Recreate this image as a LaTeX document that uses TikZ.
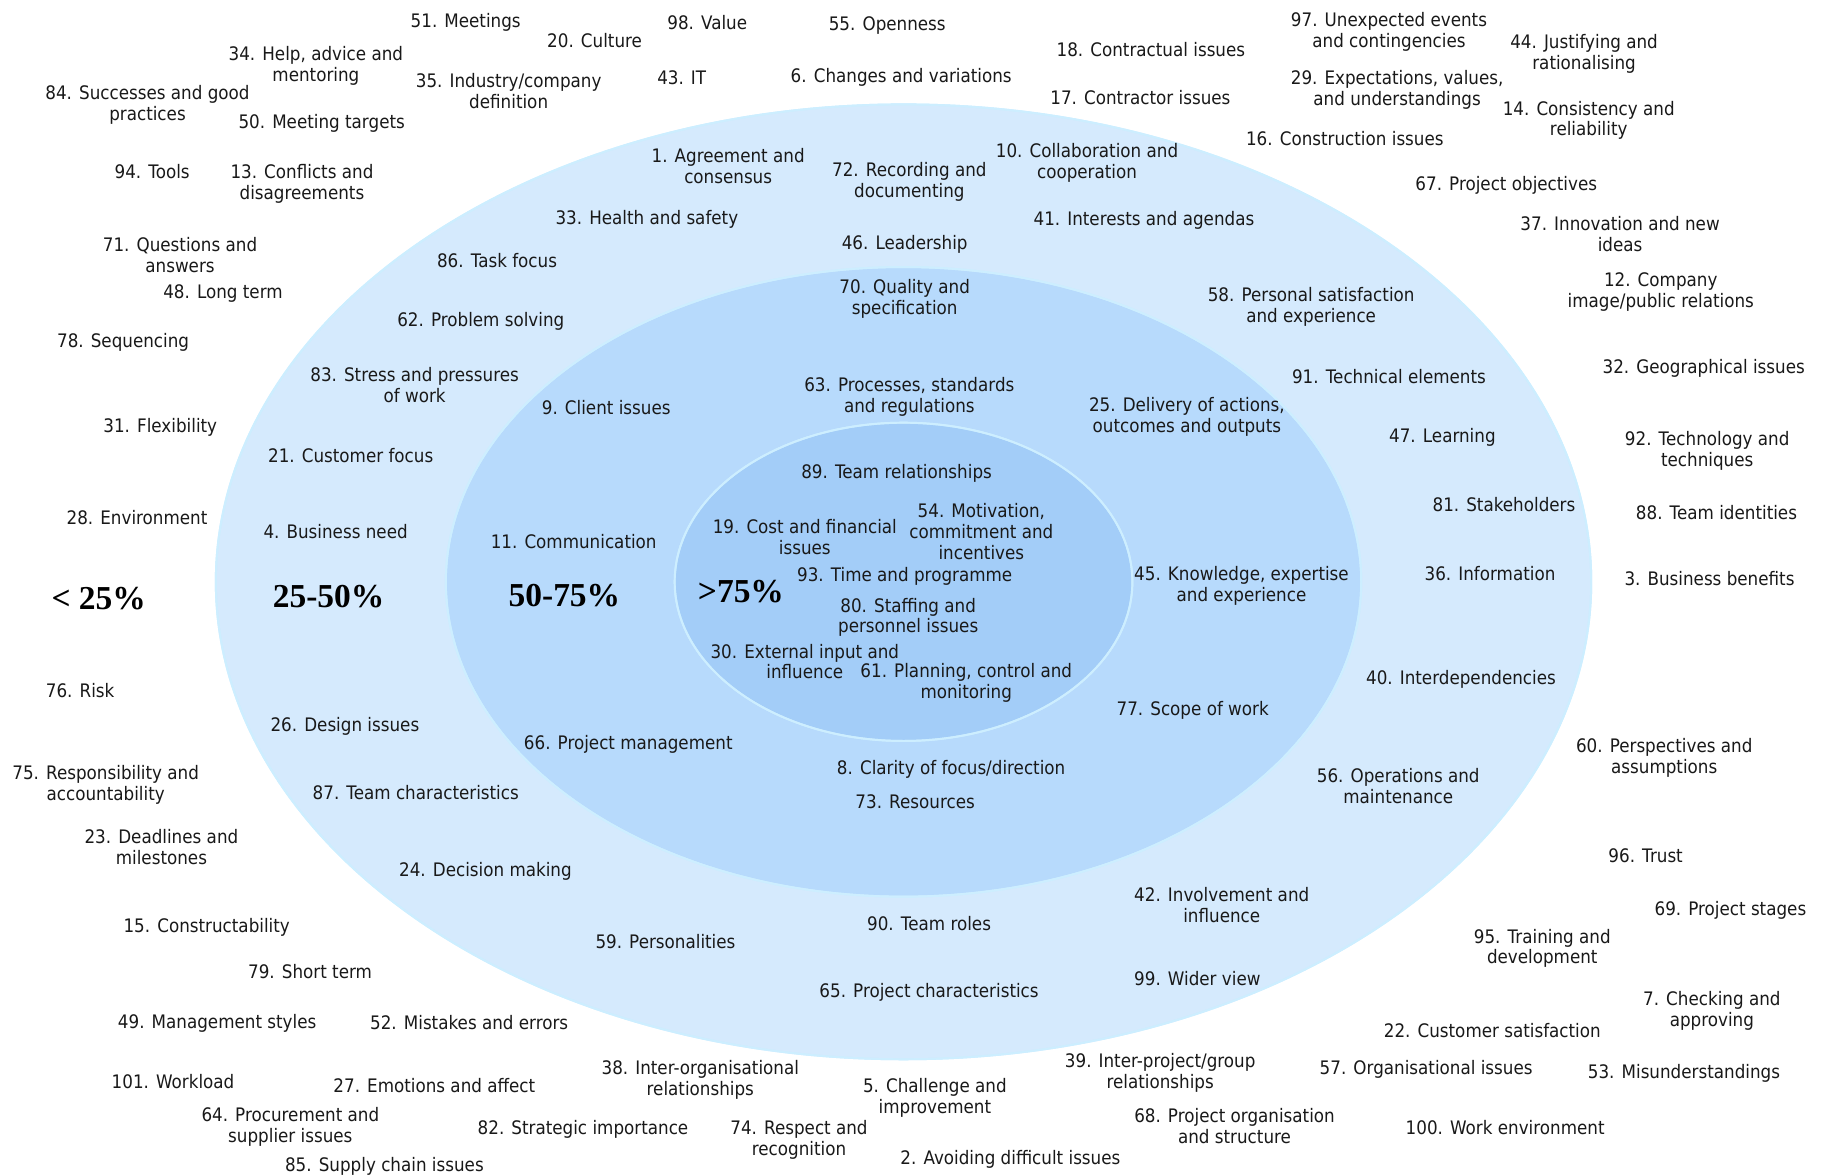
\documentclass[tikz,border=0pt]{standalone}
\usepackage{fontspec}
\setmainfont{DejaVu Sans}[FakeStretch=0.9]
\newfontfamily\timesbold{Liberation Serif}[BoldFont={Liberation Serif Bold}]
\definecolor{ringA}{RGB}{213,234,253}
\definecolor{ringB}{RGB}{183,218,252}
\definecolor{ringC}{RGB}{163,205,248}
\definecolor{ringEdge}{RGB}{205,238,255}
\definecolor{txt}{RGB}{25,25,25}
\tikzset{
  lbl/.style={font=\fontsize{11.4}{12.8}\selectfont, align=center, inner sep=0pt, text=txt, yshift=-0.065cm},
  big/.style={font=\timesbold\bfseries\fontsize{20.5}{22}\selectfont, inner sep=0pt, text=black},
  ring/.style={draw=ringEdge, line width=1.2pt}
}
\begin{document}
\begin{tikzpicture}[x=0.025cm,y=-0.025cm]
\useasboundingbox[fill=white] (0,0) rectangle (1568,1012);
% rings
\coordinate (ctr) at (778,501);
\fill[ring, fill=ringA] (ctr) ellipse [x radius=14.8cm, y radius=10.275cm];
\fill[ring, fill=ringB] (ctr) ellipse [x radius=9.85cm, y radius=6.775cm];
\fill[ring, fill=ringC] (ctr) ellipse [x radius=4.925cm, y radius=3.425cm];
\draw[ring] (ctr) ellipse [x radius=14.8cm, y radius=10.275cm];
\draw[ring] (ctr) ellipse [x radius=9.85cm, y radius=6.775cm];
\draw[ring] (ctr) ellipse [x radius=4.925cm, y radius=3.425cm];
% band labels
\node[big] (b1) at (85,515) {< 25\%};
\node[big] (b2) at (283,514) {25-50\%};
\node[big] (b3) at (486,513) {50-75\%};
\node[big] (b4) at (638,509) {>75\%};
% labels
\node[lbl] (n51) at (401,17) {51. Meetings};
\node[lbl] (n20) at (512,32) {20. Culture};
\node[lbl] (n98) at (609,17) {98. Value};
\node[lbl] (n55) at (764,19) {55. Openness};
\node[lbl] (n34) at (272,54) {34. Help, advice and\\mentoring};
\node[lbl] (n35) at (438,76) {35. Industry/company\\definition};
\node[lbl] (n43) at (587,64) {43. IT};
\node[lbl] (n6) at (776,64) {6. Changes and variations};
\node[lbl] (n18) at (991,40) {18. Contractual issues};
\node[lbl] (n17) at (982,81) {17. Contractor issues};
\node[lbl] (n97) at (1196,25) {97. Unexpected events\\and contingencies};
\node[lbl] (n44) at (1364,44) {44. Justifying and\\rationalising};
\node[lbl] (n29) at (1203,75) {29. Expectations, values,\\and understandings};
\node[lbl] (n14) at (1368,101) {14. Consistency and\\reliability};
\node[lbl] (n16) at (1158,117) {16. Construction issues};
\node[lbl] (n84) at (127,88) {84. Successes and good\\practices};
\node[lbl] (n50) at (277,104) {50. Meeting targets};
\node[lbl] (n94) at (131,145) {94. Tools};
\node[lbl] (n13) at (260,156) {13. Conflicts and\\disagreements};
\node[lbl] (n1) at (627,140) {1. Agreement and\\consensus};
\node[lbl] (n72) at (783,154) {72. Recording and\\documenting};
\node[lbl] (n10) at (936,138) {10. Collaboration and\\cooperation};
\node[lbl] (n33) at (557,186) {33. Health and safety};
\node[lbl] (n41) at (985,187) {41. Interests and agendas};
\node[lbl] (n67) at (1297,157) {67. Project objectives};
\node[lbl] (n71) at (155,217) {71. Questions and\\answers};
\node[lbl] (n48) at (192,250) {48. Long term};
\node[lbl] (n86) at (428,222) {86. Task focus};
\node[lbl] (n46) at (779,208) {46. Leadership};
\node[lbl] (n37) at (1395,199) {37. Innovation and new\\ideas};
\node[lbl] (n70) at (779,255) {70. Quality and\\specification};
\node[lbl] (n58) at (1129,262) {58. Personal satisfaction\\and experience};
\node[lbl] (n12) at (1430,249) {12. Company\\image/public relations};
\node[lbl] (n62) at (414,274) {62. Problem solving};
\node[lbl] (n78) at (106,292) {78. Sequencing};
\node[lbl] (n32) at (1467,315) {32. Geographical issues};
\node[lbl] (n91) at (1196,322) {91. Technical elements};
\node[lbl] (n83) at (357,329) {83. Stress and pressures\\of work};
\node[lbl] (n9) at (522,348) {9. Client issues};
\node[lbl] (n63) at (783,339) {63. Processes, standards\\and regulations};
\node[lbl] (n25) at (1022,356) {25. Delivery of actions,\\outcomes and outputs};
\node[lbl] (n31) at (138,365) {31. Flexibility};
\node[lbl] (n47) at (1242,374) {47. Learning};
\node[lbl] (n92) at (1470,386) {92. Technology and\\techniques};
\node[lbl] (n21) at (302,390) {21. Customer focus};
\node[lbl] (n89) at (772,405) {89. Team relationships};
\node[lbl] (n81) at (1295,432) {81. Stakeholders};
\node[lbl] (n88) at (1478,439) {88. Team identities};
\node[lbl] (n28) at (118,443) {28. Environment};
\node[lbl] (n4) at (289,455) {4. Business need};
\node[lbl] (n11) at (494,464) {11. Communication};
\node[lbl] (n19) at (693,460) {19. Cost and financial\\issues};
\node[lbl] (n54) at (845,455) {54. Motivation,\\commitment and\\incentives};
\node[lbl] (n93) at (779,494) {93. Time and programme};
\node[lbl] (n45) at (1069,502) {45. Knowledge, expertise\\and experience};
\node[lbl] (n36) at (1283,491) {36. Information};
\node[lbl] (n3) at (1472,496) {3. Business benefits};
\node[lbl] (n80) at (782,529) {80. Staffing and\\personnel issues};
\node[lbl] (n30) at (693,567) {30. External input and\\influence};
\node[lbl] (n61) at (832,585) {61. Planning, control and\\monitoring};
\node[lbl] (n76) at (69,592) {76. Risk};
\node[lbl] (n40) at (1258,582) {40. Interdependencies};
\node[lbl] (n77) at (1027,609) {77. Scope of work};
\node[lbl] (n26) at (297,623) {26. Design issues};
\node[lbl] (n66) at (541,638) {66. Project management};
\node[lbl] (n60) at (1433,650) {60. Perspectives and\\assumptions};
\node[lbl] (n8) at (819,660) {8. Clarity of focus/direction};
\node[lbl] (n75) at (91,673) {75. Responsibility and\\accountability};
\node[lbl] (n56) at (1204,674) {56. Operations and\\maintenance};
\node[lbl] (n87) at (358,680) {87. Team characteristics};
\node[lbl] (n73) at (788,688) {73. Resources};
\node[lbl] (n23) at (139,727) {23. Deadlines and\\milestones};
\node[lbl] (n96) at (1417,734) {96. Trust};
\node[lbl] (n24) at (418,748) {24. Decision making};
\node[lbl] (n42) at (1052,777) {42. Involvement and\\influence};
\node[lbl] (n69) at (1490,781) {69. Project stages};
\node[lbl] (n15) at (178,796) {15. Constructability};
\node[lbl] (n90) at (800,793) {90. Team roles};
\node[lbl] (n59) at (573,808) {59. Personalities};
\node[lbl] (n95) at (1328,814) {95. Training and\\development};
\node[lbl] (n79) at (267,834) {79. Short term};
\node[lbl] (n99) at (1031,840) {99. Wider view};
\node[lbl] (n65) at (800,852) {65. Project characteristics};
\node[lbl] (n7) at (1474,868) {7. Checking and\\approving};
\node[lbl] (n49) at (187,879) {49. Management styles};
\node[lbl] (n52) at (404,878) {52. Mistakes and errors};
\node[lbl] (n22) at (1285,885) {22. Customer satisfaction};
\node[lbl] (n38) at (603,927) {38. Inter-organisational\\relationships};
\node[lbl] (n39) at (999,921) {39. Inter-project/group\\relationships};
\node[lbl] (n57) at (1228,918) {57. Organisational issues};
\node[lbl] (n53) at (1450,922) {53. Misunderstandings};
\node[lbl] (n101) at (149,929) {101. Workload};
\node[lbl] (n27) at (374,932) {27. Emotions and affect};
\node[lbl] (n5) at (805,943) {5. Challenge and\\improvement};
\node[lbl] (n64) at (250,968) {64. Procurement and\\supplier issues};
\node[lbl] (n82) at (502,970) {82. Strategic importance};
\node[lbl] (n74) at (688,979) {74. Respect and\\recognition};
\node[lbl] (n68) at (1063,967) {68. Project organisation\\and structure};
\node[lbl] (n100) at (1296,968) {100. Work environment};
\node[lbl] (n2) at (870,996) {2. Avoiding difficult issues};
\node[lbl] (n85) at (331,1002) {85. Supply chain issues};
\end{tikzpicture}
\end{document}
